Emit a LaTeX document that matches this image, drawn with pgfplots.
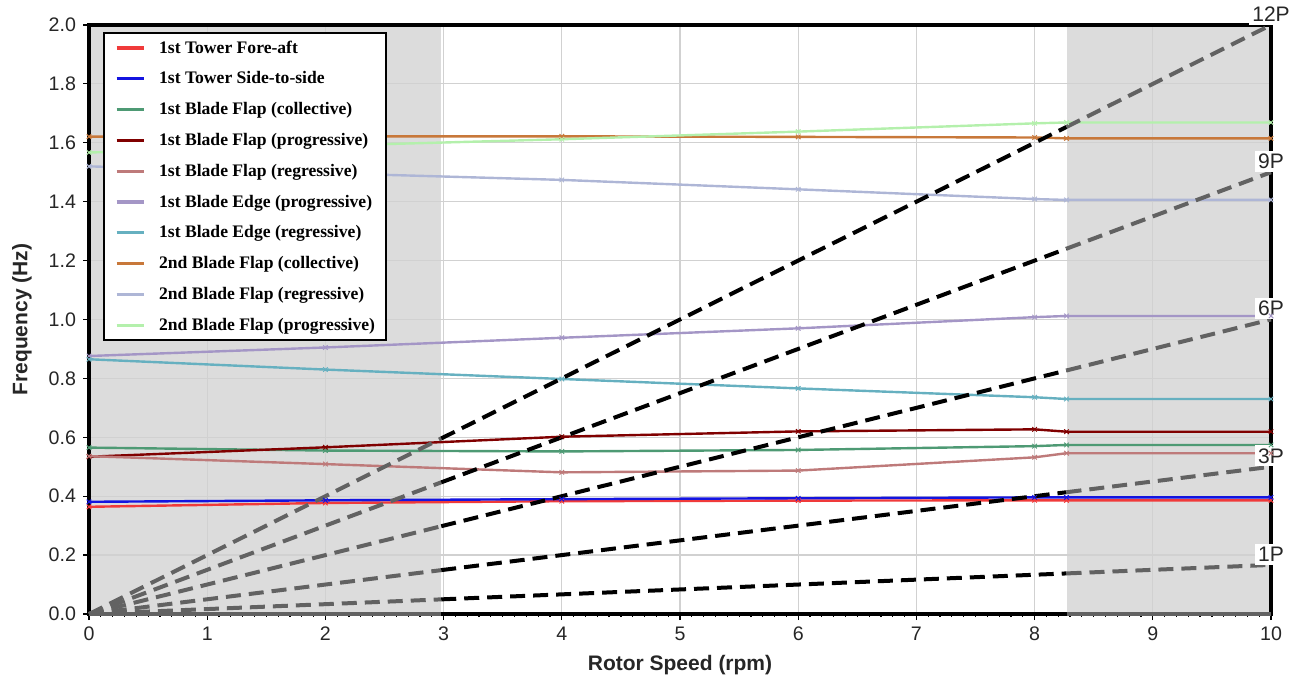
\documentclass[border=0pt]{standalone}
\usepackage{fontspec}
\setmainfont{Liberation Sans}
\newfontfamily\legfont{Liberation Serif}
\usepackage{pgfplots}
\pgfplotsset{compat=1.18}
\definecolor{cFA}{HTML}{F03A3A}
\definecolor{cSS}{HTML}{1414E0}
\definecolor{cFlapC}{HTML}{4E9A74}
\definecolor{cFlapP}{HTML}{800000}
\definecolor{cFlapR}{HTML}{BE7A7A}
\definecolor{cEdgeP}{HTML}{A496C6}
\definecolor{cEdgeR}{HTML}{66B0C0}
\definecolor{cFlap2C}{HTML}{C8783A}
\definecolor{cFlap2R}{HTML}{AEB6D6}
\definecolor{cFlap2P}{HTML}{B4F0AC}
\definecolor{shade}{HTML}{DCDCDC}
\definecolor{dgray}{HTML}{626262}

\begin{document}
\begin{tikzpicture}
\begin{axis}[
    name=ax,
    set layers,
    scale only axis,
    width=591bp, height=294.5bp,
    xmin=0, xmax=10, ymin=0, ymax=2,
    xtick={0,1,2,3,4,5,6,7,8,9,10},
    ytick={0,0.2,0.4,0.6,0.8,1.0,1.2,1.4,1.6,1.8,2.0},
    minor x tick num=9,
    xtick pos=bottom, ytick pos=left,
    tick align=outside,
    major tick length=3bp, minor tick length=1.5bp,
    every tick/.style={black, line width=0.6bp},
    grid=major,
    grid style={color=black!18, line width=0.6bp},
    axis line style={black, line width=1.6bp},
    /pgf/number format/assume math mode=true,
    yticklabel style={/pgf/number format/.cd, fixed, fixed zerofill, precision=1},
    ticklabel style={font=\fontsize{9.8bp}{11bp}\selectfont, text=black!85},
    xlabel={Rotor Speed (rpm)},
    ylabel={Frequency (Hz)},
    every axis x label/.style={at={(axis description cs:0.5,-0.087)}, anchor=center,
        font=\fontsize{10.5bp}{12bp}\selectfont\bfseries, text=black!85},
    every axis y label/.style={at={(axis description cs:-0.0567,0.5)}, rotate=90, anchor=center,
        font=\fontsize{10.5bp}{12bp}\selectfont\bfseries, text=black!85},
    clip=false,
    legend cell align=left,
    legend style={at={(axis description cs:0.0118,0.988)}, anchor=north west,
        draw=black, line width=1bp, fill=white,
        font=\legfont\bfseries\fontsize{8.8bp}{10bp}\selectfont,
        nodes={inner xsep=0bp, inner ysep=0.5bp, text height=7bp, text depth=2bp},
        column sep=7bp, row sep=5.4bp, inner xsep=5.5bp, inner ysep=2.5bp},
    legend image code/.code={\draw[#1, line width=1.6bp] (0bp,0bp) -- (13.5bp,0bp);},
    every axis plot/.append style={line width=1.2bp, mark=x, mark size=1.6bp, mark options={solid, line width=0.5bp}},
]
% shaded operating limits
\addplot[fill=shade, draw=none, mark=none, on layer=axis background, forget plot] coordinates {(0,0) (0,2) (2.98,2) (2.98,0)} -- cycle;
\addplot[fill=shade, draw=none, mark=none, on layer=axis background, forget plot] coordinates {(8.27,0) (8.27,2) (10,2) (10,0)} -- cycle;

\addplot[color=cFA] coordinates {(0,0.364) (2,0.377) (4,0.383) (6,0.385) (8,0.386) (8.27,0.386) (10,0.386)};
\addlegendentry{1st Tower Fore-aft}
\addplot[color=cSS] coordinates {(0,0.381) (2,0.386) (4,0.390) (6,0.393) (8,0.396) (8.27,0.396) (10,0.396)};
\addlegendentry{1st Tower Side-to-side}
\addplot[color=cFlapC] coordinates {(0,0.565) (2,0.555) (4,0.552) (6,0.557) (8,0.570) (8.27,0.574) (10,0.574)};
\addlegendentry{1st Blade Flap (collective)}
\addplot[color=cFlapP] coordinates {(0,0.534) (2,0.566) (4,0.602) (6,0.620) (8,0.627) (8.27,0.619) (10,0.619)};
\addlegendentry{1st Blade Flap (progressive)}
\addplot[color=cFlapR] coordinates {(0,0.536) (2,0.509) (4,0.481) (6,0.487) (8,0.532) (8.27,0.546) (10,0.546)};
\addlegendentry{1st Blade Flap (regressive)}
\addplot[color=cEdgeP] coordinates {(0,0.876) (2,0.905) (4,0.938) (6,0.970) (8,1.008) (8.27,1.012) (10,1.012)};
\addlegendentry{1st Blade Edge (progressive)}
\addplot[color=cEdgeR] coordinates {(0,0.865) (2,0.830) (4,0.798) (6,0.766) (8,0.736) (8.27,0.730) (10,0.730)};
\addlegendentry{1st Blade Edge (regressive)}
\addplot[color=cFlap2C] coordinates {(0,1.621) (2,1.622) (4,1.622) (6,1.620) (8,1.618) (8.27,1.615) (10,1.615)};
\addlegendentry{2nd Blade Flap (collective)}
\addplot[color=cFlap2R] coordinates {(0,1.520) (2,1.497) (4,1.474) (6,1.442) (8,1.409) (8.27,1.406) (10,1.406)};
\addlegendentry{2nd Blade Flap (regressive)}
\addplot[color=cFlap2P] coordinates {(0,1.567) (2,1.590) (4,1.612) (6,1.638) (8,1.666) (8.27,1.669) (10,1.669)};
\addlegendentry{2nd Blade Flap (progressive)}

% rotor harmonics (nP), grey outside / black inside the operating range
\pgfplotsset{pline/.style={forget plot, mark=none, line width=2bp, dash pattern=on 7.5bp off 4bp}}
\addplot[forget plot, mark=none, line width=2.2bp, dgray] coordinates {(0,0) (2.98,0)};
\addplot[forget plot, mark=none, line width=2.2bp, dgray] coordinates {(8.27,0) (10,0)};
\addplot[pline, dgray] coordinates {(0,0) (2.98,0.0497)};
\addplot[pline, black] coordinates {(2.98,0.0497) (8.27,0.1378)};
\addplot[pline, dgray] coordinates {(8.27,0.1378) (10,0.1667)};
\addplot[pline, dgray] coordinates {(0,0) (2.98,0.149)};
\addplot[pline, black] coordinates {(2.98,0.149) (8.27,0.4135)};
\addplot[pline, dgray] coordinates {(8.27,0.4135) (10,0.5)};
\addplot[pline, dgray] coordinates {(0,0) (2.98,0.298)};
\addplot[pline, black] coordinates {(2.98,0.298) (8.27,0.827)};
\addplot[pline, dgray] coordinates {(8.27,0.827) (10,1.0)};
\addplot[pline, dgray] coordinates {(0,0) (2.98,0.447)};
\addplot[pline, black] coordinates {(2.98,0.447) (8.27,1.2405)};
\addplot[pline, dgray] coordinates {(8.27,1.2405) (10,1.5)};
\addplot[pline, dgray] coordinates {(0,0) (2.98,0.596)};
\addplot[pline, black] coordinates {(2.98,0.596) (8.27,1.654)};
\addplot[pline, dgray] coordinates {(8.27,1.654) (10,2.0)};

\tikzset{plab/.style={fill=white, inner sep=1.5bp, anchor=south, text=black!85, font=\fontsize{10.5bp}{12bp}\selectfont}}
\node[plab] at (axis cs:10,2.0) {12P};
\node[plab] at (axis cs:10,1.5) {9P};
\node[plab] at (axis cs:10,1.0) {6P};
\node[plab] at (axis cs:10,0.5) {3P};
\node[plab] at (axis cs:10,0.1667) {1P};
\end{axis}
\pgfresetboundingbox
\path ([shift={(-44.5bp,-35bp)}]ax.south west) rectangle ([shift={(12bp,12.5bp)}]ax.north east);
\end{tikzpicture}
\end{document}
